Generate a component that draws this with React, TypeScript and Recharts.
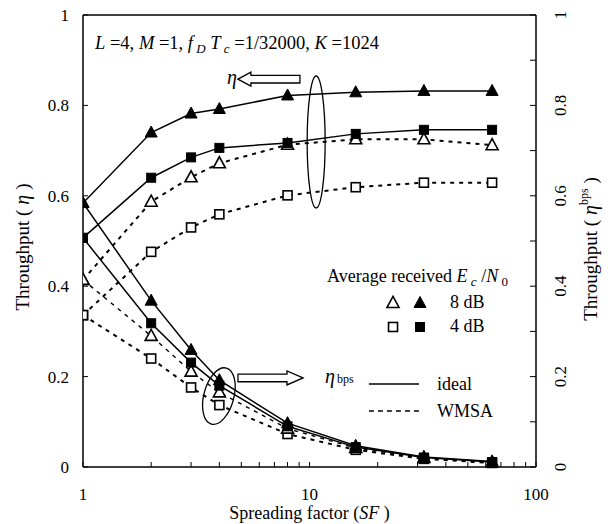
import React from 'react';
import { ComposedChart, Line, XAxis, YAxis, ReferenceDot, ReferenceLine } from 'recharts';

const FONT = 'Liberation Serif';

// ---- data ----
const spreadingFactors = [1, 2, 3, 4, 8, 16, 32, 64];
const etaIdeal8 = [0.584, 0.74, 0.782, 0.792, 0.822, 0.829, 0.832, 0.832];
const etaIdeal4 = [0.507, 0.64, 0.685, 0.706, 0.717, 0.737, 0.746, 0.746];
const etaWmsa8 = [0.414, 0.587, 0.641, 0.672, 0.713, 0.725, 0.725, 0.712];
const etaWmsa4 = [0.336, 0.476, 0.53, 0.559, 0.601, 0.619, 0.629, 0.629];
const bpsIdeal8 = [0.584, 0.368, 0.259, 0.192, 0.097, 0.047, 0.022, 0.012];
const bpsIdeal4 = [0.507, 0.318, 0.231, 0.18, 0.09, 0.044, 0.021, 0.011];
const bpsWmsa8 = [0.414, 0.29, 0.211, 0.165, 0.085, 0.042, 0.02, 0.01];
const bpsWmsa4 = [0.336, 0.24, 0.176, 0.137, 0.073, 0.038, 0.018, 0.009];

const xTicks = [1, 2, 3, 4, 5, 6, 7, 8, 9, 10, 20, 30, 40, 50, 60, 70, 80, 90, 100];
const xTickLabels = [1, 10, 100];
const leftTicks = [0, 0.2, 0.4, 0.6, 0.8, 1];
const rightTicks = [0, 0.1, 0.2, 0.3, 0.4, 0.5, 0.6, 0.7, 0.8, 0.9, 1];
const rightLabelTicks = [0, 0.2, 0.4, 0.6, 0.8, 1];

const data = spreadingFactors.map((sf, i) => ({
  sf,
  etaIdeal8: etaIdeal8[i],
  etaIdeal4: etaIdeal4[i],
  etaWmsa8: etaWmsa8[i],
  etaWmsa4: etaWmsa4[i],
  bpsIdeal8: bpsIdeal8[i],
  bpsIdeal4: bpsIdeal4[i],
  bpsWmsa8: bpsWmsa8[i],
  bpsWmsa4: bpsWmsa4[i],
}));

const fmt = (v: number) => (v === 0 ? '0' : v === 1 ? '1' : v.toFixed(1));

const Tri = ({ cx, cy, filled }: any) => (
  <polygon
    points={`${cx},${cy - 6.5} ${cx - 6},${cy + 4.5} ${cx + 6},${cy + 4.5}`}
    fill={filled ? '#000' : '#fff'}
    stroke="#000"
    strokeWidth={filled ? 1 : 1.6}
  />
);
const Sq = ({ cx, cy, filled }: any) => (
  <rect
    x={cx - 4.5}
    y={cy - 4.5}
    width={9}
    height={9}
    fill={filled ? '#000' : '#fff'}
    stroke="#000"
    strokeWidth={filled ? 1 : 1.6}
  />
);

const dotFor = (kind: 'tri' | 'sq', filled: boolean, tag: string) => (p: any) =>
  kind === 'tri' ? (
    <Tri key={`${tag}${p.index}`} cx={p.cx} cy={p.cy} filled={filled} />
  ) : (
    <Sq key={`${tag}${p.index}`} cx={p.cx} cy={p.cy} filled={filled} />
  );

const fontStyle = { fontFamily: FONT } as const;

const RightTick = (props: any) => {
  const { x, y, payload } = props;
  const v = payload.value;
  if (!rightLabelTicks.some((t) => Math.abs(t - v) < 1e-6)) return <g />;
  return (
    <text
      transform={`translate(${x},${y}) rotate(-90)`}
      textAnchor="middle"
      dominantBaseline="central"
      fontSize={17}
      style={fontStyle}
      fill="#000"
    >
      {fmt(v)}
    </text>
  );
};

const LeftTitle = (props: any) => {
  const { x, y, height } = props.viewBox;
  return (
    <text
      transform={`translate(${x + 22},${y + height / 2 + 6}) rotate(-90)`}
      textAnchor="middle"
      dominantBaseline="central"
      fontSize={19}
      style={fontStyle}
      fill="#000"
    >
      Throughput (<tspan fontStyle="italic" fontSize={20}> η </tspan>)
    </text>
  );
};

const RightTitle = (props: any) => {
  const { x, y, height } = props.viewBox;
  return (
    <text
      transform={`translate(${x + 54},${y + height / 2 + 8}) rotate(-90)`}
      textAnchor="middle"
      dominantBaseline="central"
      fontSize={19}
      style={fontStyle}
      fill="#000"
    >
      Throughput (<tspan fontStyle="italic" fontSize={20}> η</tspan>
      <tspan fontSize={12} dy={-6}>bps</tspan>
      <tspan dy={6}> )</tspan>
    </text>
  );
};

const XTitle = (props: any) => {
  const { x, y, width } = props.viewBox;
  return (
    <text x={x + width / 2} y={y + 52} textAnchor="middle" fontSize={18} style={fontStyle} fill="#000">
      Spreading factor (<tspan fontStyle="italic">SF</tspan> )
    </text>
  );
};

const txt = { style: fontStyle, fill: '#000' } as const;

export default function App() {
  return (
    <div style={{ position: 'absolute', left: 0, top: 0, width: 610, height: 524, background: '#fff', fontFamily: FONT }}>
      <ComposedChart width={610} height={524} data={data} margin={{ top: 15, right: 0, left: 0, bottom: 27 }} style={fontStyle}>
        <XAxis
          dataKey="sf"
          type="number"
          scale="log"
          domain={[1, 100]}
          allowDataOverflow
          ticks={xTicks}
          interval={0}
          tickFormatter={(v: number) => (xTickLabels.includes(v) ? String(v) : '')}
          tickSize={-5}
          tickMargin={26}
          tick={{ fontSize: 17, fontFamily: FONT, fill: '#000' }}
          tickLine={{ stroke: '#000', strokeWidth: 1 }}
          axisLine={{ stroke: '#000', strokeWidth: 1.5 }}
          height={30}
          label={{ content: XTitle } as any}
        />
        <YAxis
          yAxisId="left"
          domain={[0, 1]}
          ticks={leftTicks}
          interval={0}
          tickFormatter={fmt}
          tickSize={-5}
          tickMargin={19}
          tick={{ fontSize: 17, fontFamily: FONT, fill: '#000' }}
          tickLine={{ stroke: '#000', strokeWidth: 1 }}
          axisLine={{ stroke: '#000', strokeWidth: 1.5 }}
          width={83}
          label={{ content: LeftTitle } as any}
        />
        <YAxis
          yAxisId="right"
          orientation="right"
          domain={[0, 1]}
          ticks={rightTicks}
          interval={0}
          tickSize={-6}
          tickMargin={30}
          tick={<RightTick />}
          tickLine={{ stroke: '#000', strokeWidth: 1 }}
          axisLine={{ stroke: '#000', strokeWidth: 1.5 }}
          width={74}
          label={{ content: RightTitle } as any}
        />
        <ReferenceLine yAxisId="left" y={1} stroke="#000" strokeWidth={1.5} />

        {/* WMSA (dashed) */}
        <Line yAxisId="left" dataKey="etaWmsa4" type="linear" stroke="#000" strokeWidth={2} strokeDasharray="4 5" dot={dotFor('sq', false, 'ew4')} isAnimationActive={false} />
        <Line yAxisId="left" dataKey="etaWmsa8" type="linear" stroke="#000" strokeWidth={2} strokeDasharray="4 5" dot={dotFor('tri', false, 'ew8')} isAnimationActive={false} />
        <Line yAxisId="right" dataKey="bpsWmsa4" type="linear" stroke="#000" strokeWidth={2} strokeDasharray="4 5" dot={dotFor('sq', false, 'bw4')} isAnimationActive={false} />
        <Line yAxisId="right" dataKey="bpsWmsa8" type="linear" stroke="#000" strokeWidth={1.4} strokeDasharray="4 5" dot={dotFor('tri', false, 'bw8')} isAnimationActive={false} />
        {/* ideal (solid) */}
        <Line yAxisId="left" dataKey="etaIdeal4" type="linear" stroke="#000" strokeWidth={1.5} dot={dotFor('sq', true, 'ei4')} isAnimationActive={false} />
        <Line yAxisId="left" dataKey="etaIdeal8" type="linear" stroke="#000" strokeWidth={1.5} dot={dotFor('tri', true, 'ei8')} isAnimationActive={false} />
        <Line yAxisId="right" dataKey="bpsIdeal4" type="linear" stroke="#000" strokeWidth={1.5} dot={dotFor('sq', true, 'bi4')} isAnimationActive={false} />
        <Line yAxisId="right" dataKey="bpsIdeal8" type="linear" stroke="#000" strokeWidth={1.5} dot={dotFor('tri', true, 'bi8')} isAnimationActive={false} />

        {/* parameter text */}
        <ReferenceDot
          yAxisId="left"
          x={1.13}
          y={0.925}
          r={0}
          shape={(p: any) => (
            <text x={p.cx} y={p.cy} fontSize={18.5} {...txt}>
              <tspan fontStyle="italic">L</tspan>
              <tspan> =4, </tspan>
              <tspan fontStyle="italic">M</tspan>
              <tspan> =1, </tspan>
              <tspan fontStyle="italic">f</tspan>
              <tspan fontStyle="italic" fontSize={13} dy={4}> D</tspan>
              <tspan dy={-4}> </tspan>
              <tspan fontStyle="italic">T</tspan>
              <tspan fontStyle="italic" fontSize={13} dy={4}> c</tspan>
              <tspan dy={-4}> =1/32000, </tspan>
              <tspan fontStyle="italic">K</tspan>
              <tspan> =1024</tspan>
            </text>
          )}
        />
        {/* eta arrow */}
        <ReferenceDot
          yAxisId="left"
          x={4.83}
          y={0.858}
          r={0}
          shape={(p: any) => (
            <g transform={`translate(${p.cx},${p.cy})`}>
              <polygon points="0,0 13,-7 13,-3.8 62,-3.8 62,3.8 13,3.8 13,7" fill="#fff" stroke="#000" strokeWidth={1.3} />
              <text x={-1} y={5} textAnchor="end" fontSize={20} fontStyle="italic" {...txt}>η</text>
            </g>
          )}
        />
        {/* ellipse around eta curves */}
        <ReferenceDot
          yAxisId="left"
          x={10.7}
          y={0.719}
          r={0}
          shape={(p: any) => <ellipse cx={p.cx} cy={p.cy} rx={9} ry={66} fill="none" stroke="#000" strokeWidth={1.3} />}
        />
        {/* ellipse around bps curves */}
        <ReferenceDot
          yAxisId="left"
          x={3.98}
          y={0.157}
          r={0}
          shape={(p: any) => (
            <ellipse cx={p.cx} cy={p.cy} rx={15} ry={29} transform={`rotate(15 ${p.cx} ${p.cy})`} fill="none" stroke="#000" strokeWidth={1.3} />
          )}
        />
        {/* bps arrow */}
        <ReferenceDot
          yAxisId="left"
          x={9.36}
          y={0.197}
          r={0}
          shape={(p: any) => (
            <g transform={`translate(${p.cx},${p.cy})`}>
              <polygon points="0,0 -16,-7 -16,-3.8 -65,-3.8 -65,3.8 -16,3.8 -16,7" fill="#fff" stroke="#000" strokeWidth={1.3} />
              <text x={22} y={5} fontSize={20} fontStyle="italic" {...txt}>
                η<tspan fontStyle="normal" fontSize={12} dx={2}>bps</tspan>
              </text>
            </g>
          )}
        />
        {/* marker legend */}
        <ReferenceDot
          yAxisId="left"
          x={11.95}
          y={0.4226}
          r={0}
          shape={(p: any) => (
            <g transform={`translate(${p.cx},${p.cy})`}>
              <text x={0} y={6} fontSize={18} {...txt}>
                Average received <tspan fontStyle="italic">E</tspan>
                <tspan fontStyle="italic" fontSize={13} dy={4}> c</tspan>
                <tspan dy={-4}> /</tspan>
                <tspan fontStyle="italic">N</tspan>
                <tspan fontSize={13} dy={4}> 0</tspan>
              </text>
              <Tri cx={66} cy={27} filled={false} />
              <Tri cx={93} cy={27} filled />
              <text x={123} y={32} fontSize={18} {...txt}>8 dB</text>
              <Sq cx={66} cy={51} filled={false} />
              <Sq cx={93} cy={51} filled />
              <text x={123} y={56} fontSize={18} {...txt}>4 dB</text>
            </g>
          )}
        />
        {/* line-style legend */}
        <ReferenceDot
          yAxisId="left"
          x={18.3}
          y={0.1836}
          r={0}
          shape={(p: any) => (
            <g transform={`translate(${p.cx},${p.cy})`}>
              <line x1={0} y1={0} x2={50} y2={0} stroke="#000" strokeWidth={1.5} />
              <text x={68} y={6} fontSize={18} {...txt}>ideal</text>
              <line x1={0} y1={27} x2={50} y2={27} stroke="#000" strokeWidth={1.5} strokeDasharray="5 4" />
              <text x={68} y={33} fontSize={18} {...txt}>WMSA</text>
            </g>
          )}
        />
      </ComposedChart>
    </div>
  );
}
